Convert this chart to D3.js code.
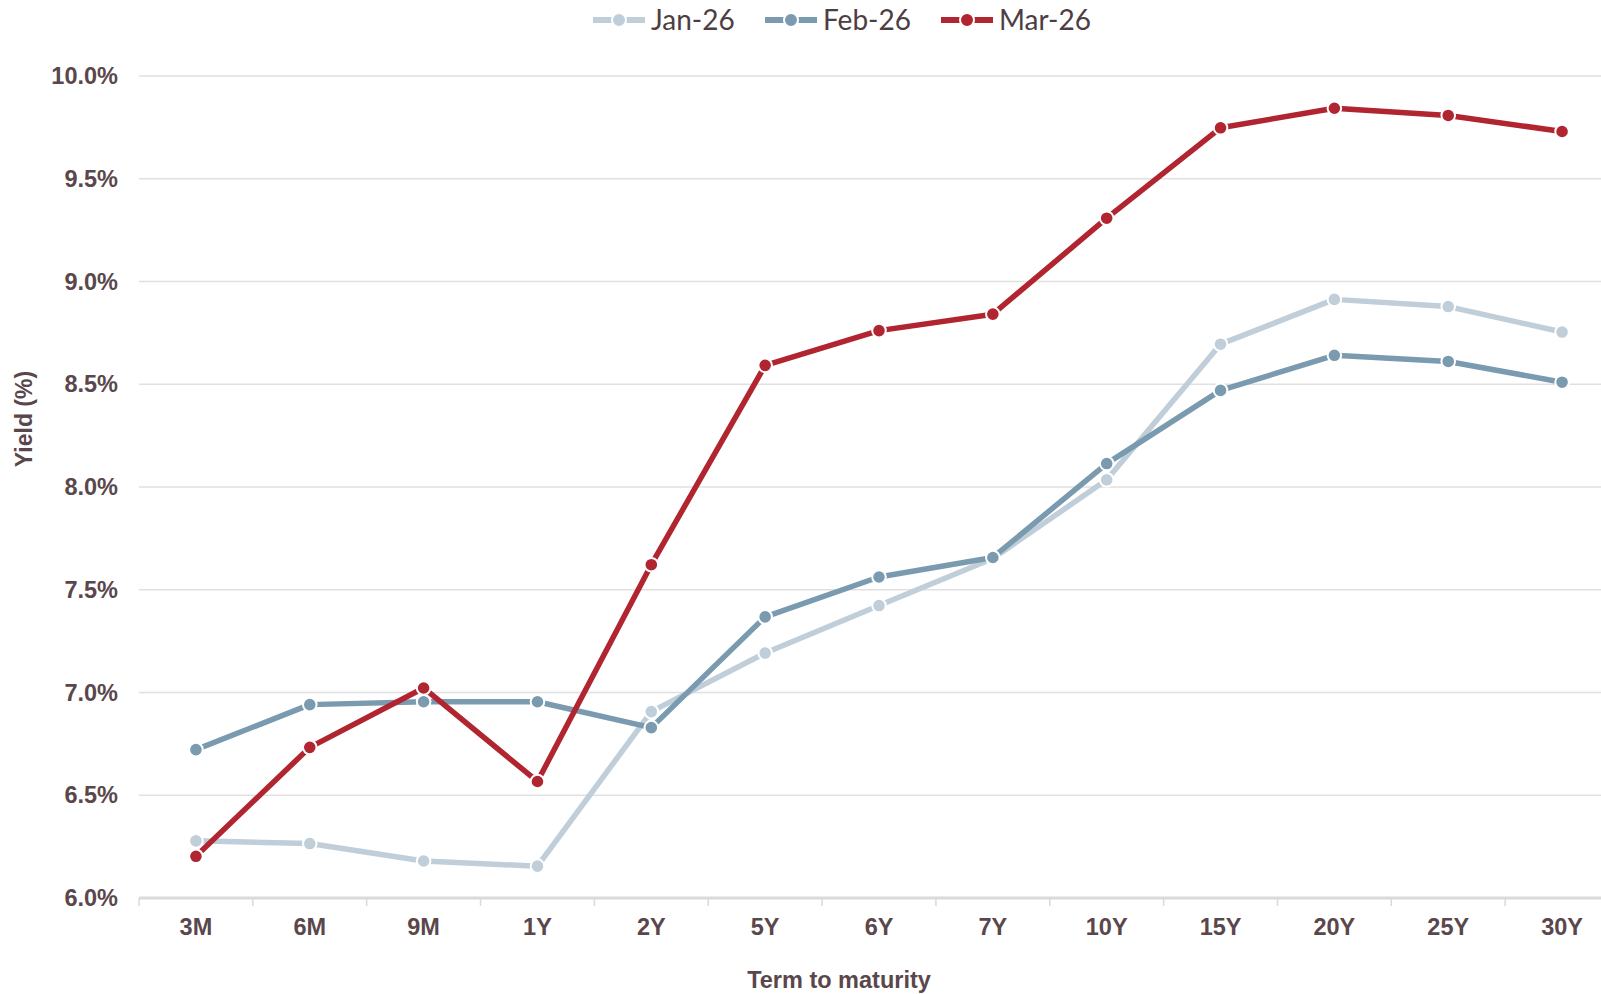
<!DOCTYPE html>
<html>
<head>
<meta charset="utf-8">
<script src="https://cdn.jsdelivr.net/npm/d3@7"></script>
<style>
  html, body { margin: 0; padding: 0; background: #fff; overflow: hidden; }
  svg { display: block; }
</style>
</head>
<body>
<svg id="chart" width="1601" height="994"></svg>
<script>
// Yield curve by term to maturity, three monthly snapshots
const terms = ["3M", "6M", "9M", "1Y", "2Y", "5Y", "6Y", "7Y", "10Y", "15Y", "20Y", "25Y", "30Y"];
const jan26 = [6.278, 6.265, 6.180, 6.155, 6.907, 7.192, 7.423, 7.652, 8.035, 8.695, 8.913, 8.878, 8.754];
const feb26 = [6.722, 6.941, 6.955, 6.955, 6.829, 7.368, 7.562, 7.657, 8.114, 8.470, 8.641, 8.611, 8.510];
const mar26 = [6.203, 6.733, 7.022, 6.567, 7.622, 8.592, 8.761, 8.841, 9.308, 9.748, 9.843, 9.808, 9.730];
const seriesNames = ["Jan-26", "Feb-26", "Mar-26"];
const seriesColors = ["#bfced8", "#7a9baf", "#b0252f"];
const yTicks = [6.0, 6.5, 7.0, 7.5, 8.0, 8.5, 9.0, 9.5, 10.0];

const series = [jan26, feb26, mar26].map((vals, i) => ({
  name: seriesNames[i],
  color: seriesColors[i],
  points: terms.map((t, j) => ({ term: t, value: vals[j] }))
}));

const svg = d3.select("#chart");
const textColor = "#5a474c";
const axisFont = "'Liberation Sans', Arial, sans-serif";

const plotLeft = 139, plotRight = 1619, plotTop = 76, plotBottom = 898;

const x = d3.scaleBand().domain(terms).range([plotLeft, plotRight]).padding(0);
const y = d3.scaleLinear().domain([6, 10]).range([plotBottom, plotTop]);

// Horizontal gridlines
svg.append("g")
  .selectAll("line")
  .data(yTicks.filter(v => v > 6))
  .join("line")
  .attr("x1", plotLeft).attr("x2", 1601)
  .attr("y1", d => y(d)).attr("y2", d => y(d))
  .attr("stroke", "#e3dfe0").attr("stroke-width", 1.5);

// Y axis labels
const yAxis = d3.axisLeft(y).tickValues(yTicks).tickSize(0).tickPadding(0)
  .tickFormat(d => d.toFixed(1) + "%");
const yg = svg.append("g").attr("transform", `translate(118,0)`).call(yAxis);
yg.select(".domain").remove();
yg.selectAll("text")
  .attr("fill", textColor)
  .style("font-family", axisFont)
  .style("font-weight", "bold")
  .style("font-size", "23.5px");

// X axis: baseline, ticks at category boundaries, centered labels
const xg = svg.append("g");
xg.append("line")
  .attr("x1", plotLeft).attr("x2", 1601)
  .attr("y1", plotBottom).attr("y2", plotBottom)
  .attr("stroke", "#dcd9da").attr("stroke-width", 3);
const boundaries = terms.map(t => x(t));
xg.selectAll("line.tick")
  .data(boundaries)
  .join("line")
  .attr("class", "tick")
  .attr("x1", d => d).attr("x2", d => d)
  .attr("y1", plotBottom).attr("y2", plotBottom + 8)
  .attr("stroke", "#dcd9da").attr("stroke-width", 1.5);
const xAxis = d3.axisBottom(x).tickSize(0).tickPadding(0);
const xl = svg.append("g").attr("transform", `translate(0,${plotBottom + 20})`).call(xAxis);
xl.select(".domain").remove();
xl.selectAll("text")
  .attr("fill", textColor)
  .attr("dy", "0.71em")
  .style("font-family", axisFont)
  .style("font-weight", "bold")
  .style("font-size", "23.5px");

// Axis titles
svg.append("text")
  .attr("x", 839).attr("y", 988)
  .attr("text-anchor", "middle")
  .attr("fill", textColor)
  .style("font-family", axisFont)
  .style("font-weight", "bold")
  .style("font-size", "23.5px")
  .text("Term to maturity");

svg.append("text")
  .attr("transform", "translate(32,419) rotate(-90)")
  .attr("text-anchor", "middle")
  .attr("fill", textColor)
  .style("font-family", axisFont)
  .style("font-weight", "bold")
  .style("font-size", "23px")
  .text("Yield (%)");

// Series lines and markers
const line = d3.line()
  .x(d => x(d.term) + x.bandwidth() / 2)
  .y(d => y(d.value));

series.forEach(s => {
  const g = svg.append("g");
  g.append("path")
    .datum(s.points)
    .attr("d", line)
    .attr("fill", "none")
    .attr("stroke", s.color)
    .attr("stroke-width", 5.5)
    .attr("stroke-linejoin", "round");
  g.selectAll("circle")
    .data(s.points)
    .join("circle")
    .attr("cx", d => x(d.term) + x.bandwidth() / 2)
    .attr("cy", d => y(d.value))
    .attr("r", 6.8)
    .attr("fill", s.color)
    .attr("stroke", "#fff")
    .attr("stroke-width", 2);
});

// Legend
const legendX = [593, 765, 941];
const legend = svg.append("g");
series.forEach((s, i) => {
  const lg = legend.append("g").attr("transform", `translate(${legendX[i]},20)`);
  lg.append("line")
    .attr("x1", 0).attr("x2", 52).attr("y1", 0).attr("y2", 0)
    .attr("stroke", s.color).attr("stroke-width", 6);
  lg.append("circle")
    .attr("cx", 26).attr("cy", 0).attr("r", 7)
    .attr("fill", s.color).attr("stroke", "#fff").attr("stroke-width", 2);
  lg.append("text")
    .attr("x", 58).attr("y", 0).attr("dy", "0.35em")
    .attr("fill", "#4d3e43")
    .style("font-family", "Lato, 'Open Sans', sans-serif")
    .style("font-size", "28px")
    .text(s.name);
});
</script>
</body>
</html>
